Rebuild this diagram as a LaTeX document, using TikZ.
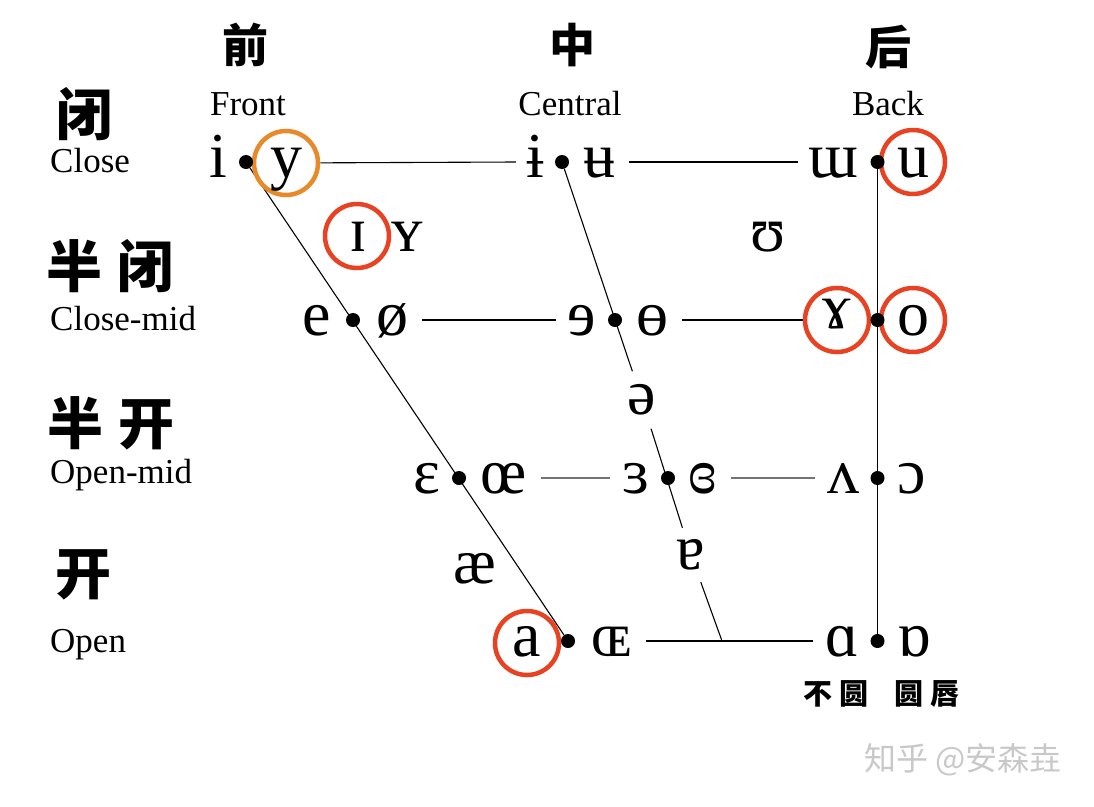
\documentclass[tikz,border=0pt]{standalone}
\usepackage{fontspec}
\setmainfont{Liberation Serif}
\newfontfamily\cjk{Noto Sans CJK SC}
\usetikzlibrary{backgrounds}
\definecolor{ringred}{RGB}{232,66,34}
\definecolor{ringorange}{RGB}{232,137,42}
\definecolor{wm}{RGB}{200,200,200}
\begin{document}
\begin{tikzpicture}[x=1pt,y=-1pt,
  ipa/.style={anchor=base,inner sep=0pt,font=\fontsize{64}{64}\selectfont},
  gapbox/.style={inner sep=0pt,minimum width=30pt,font=\fontsize{64}{64}\selectfont},
  vdot/.style={circle,fill=black,inner sep=0pt,minimum size=14pt},
  ring/.style={circle,draw=#1,line width=4.5pt,fill=white,inner sep=0pt,minimum size=64pt},
  conn/.style={line width=1.1pt,black},
  conngray/.style={line width=1.1pt,black!55},
  en/.style={anchor=base west,inner sep=0pt,font=\fontsize{35}{35}\selectfont},
  enc/.style={anchor=base,inner sep=0pt,font=\fontsize{35}{35}\selectfont},
  zh/.style={inner sep=0pt,font=\cjk\bfseries\fontsize{46}{46}\selectfont},
  zhl/.style={inner sep=0pt,font=\cjk\bfseries\fontsize{56}{56}\selectfont},
  zhs/.style={inner sep=0pt,font=\cjk\bfseries\fontsize{29}{29}\selectfont}]
\useasboundingbox (0,0) rectangle (1094,806);

% headings
\node[zh] (hq) at (245,45) {前};
\node[zh] (hz) at (572,45) {中};
\node[zh] (hh) at (888,47) {后};
\node[enc] (tf) at (248,115) {Front};
\node[enc] (tc) at (570,115) {Central};
\node[enc] (tb) at (888,115) {Back};

% left labels
\node[zhl] (l1) at (84,114) {闭};
\node[en] (e1) at (50,172) {Close};
\node[zhl] (l2) at (110,266) {半\hspace{16pt}闭};
\node[en] (e2) at (50,330) {Close-mid};
\node[zhl] (l3) at (111,423) {半\hspace{16pt}开};
\node[en] (e3) at (50,483) {Open-mid};
\node[zhl] (l4) at (83,575) {开};
\node[en] (e4) at (50,652) {Open};

% circles
\node[ring=ringorange] (cy) at (286,163) {};
\node[ring=ringred] (cu) at (913,162) {};
\node[ring=ringred] (csi) at (357,236) {};
\node[ring=ringred] (cram) at (837,320) {};
\node[ring=ringred] (co) at (913,320) {};
\node[ring=ringred] (ca) at (527,643) {};

% dots
\node[vdot] (di) at (246,162) {};
\node[vdot] (dib) at (562,162) {};
\node[vdot] (du) at (877.5,162) {};
\node[vdot] (de) at (353,320) {};
\node[vdot] (de2) at (615,320) {};
\node[vdot] (do) at (877.5,320) {};
\node[vdot] (deps) at (459,478) {};
\node[vdot] (d3) at (668,478) {};
\node[vdot] (dv) at (877.5,478) {};
\node[vdot] (da) at (568,641) {};
\node[vdot] (dsa) at (877.5,641) {};

% close row
\node[ipa] (gi) at (218,177) {i};
\node[ipa] (gy) at (286,177) {y};
\node[ipa] (gib) at (535,177) {ɨ};
\node[ipa] (gub) at (599,177) {ʉ};
\node[ipa] (gm) at (833,177) {ɯ};
\node[ipa] (gu) at (913,177) {u};
% near-close
\node[ipa] (gsi) at (358,251) {ɪ};
\node[ipa] (gsy) at (407,251) {ʏ};
\node[ipa] (gup) at (768,251) {ʊ};
% close-mid
\node[ipa] (ge) at (317,335) {e};
\node[ipa] (gos) at (392,335) {ø};
\node[ipa] (gre) at (582,335) {ɘ};
\node[ipa] (gob) at (652,335) {ɵ};
\node[ipa] (gram) at (837,328) {ɤ};
\node[ipa] (go) at (913,335) {o};
% mid
\node[gapbox,minimum height=57pt] (schwa) at (642,400) {ə};
% open-mid
\node[ipa] (geps) at (427,493) {ɛ};
\node[ipa] (goe) at (504,493) {œ};
\node[ipa] (g3) at (636,493) {ɜ};
\node[ipa] (gc3) at (703,493) {ɞ};
\node[ipa] (gv) at (843,493) {ʌ};
\node[ipa] (goo) at (912,493) {ɔ};
% near-open
\node[ipa] (gae) at (475,583) {æ};
\node[gapbox,minimum height=54pt] (turna) at (691,555) {ɐ};
% open
\node[ipa] (ga) at (527,656) {a};
\node[ipa] (gOE) at (612,656) {ɶ};
\node[ipa] (gsa) at (842,656) {ɑ};
\node[ipa] (gsb) at (914,656) {ɒ};

\coordinate (cm) at (722,641);

% bottom labels
\node[zhs] (bu) at (836,694) {不\hspace{8pt}圆};
\node[zhs] (yc) at (927,694) {圆\hspace{8pt}唇};

% watermark
\node[inner sep=0pt,text=wm,font=\cjk\fontsize{32}{32}\selectfont] (wmk) at (963,760) {知乎 @安森垚};

\begin{pgfonlayer}{background}
  % front edge
  \draw[conn] (di) -- (da);
  % central line
  \draw[conn] (dib) -- (schwa);
  \draw[conn] (schwa) -- (turna);
  \draw[conn] (turna) -- (cm);
  % back edge
  \draw[conn] (du) -- (dsa);
  % close row
  \draw[conn] (cy) -- ([xshift=-10pt]gib.west |- dib);
  \draw[conn] ([xshift=14pt]gub.east |- dib) -- ([xshift=-10pt]gm.west |- du);
  % close-mid row
  \draw[conn] ([xshift=14pt]gos.east |- de) -- ([xshift=-12pt]gre.west |- de2);
  \draw[conn] ([xshift=14pt]gob.east |- de2) -- (cram);
  % open-mid row
  \draw[conngray] ([xshift=14pt]goe.east |- deps) -- ([xshift=-12pt]g3.west |- d3);
  \draw[conngray] ([xshift=14pt]gc3.east |- d3) -- ([xshift=-12pt]gv.west |- dv);
  % open row
  \draw[conn] ([xshift=14pt]gOE.east |- da) -- ([xshift=-12pt]gsa.west |- dsa);
\end{pgfonlayer}
\end{tikzpicture}
\end{document}
